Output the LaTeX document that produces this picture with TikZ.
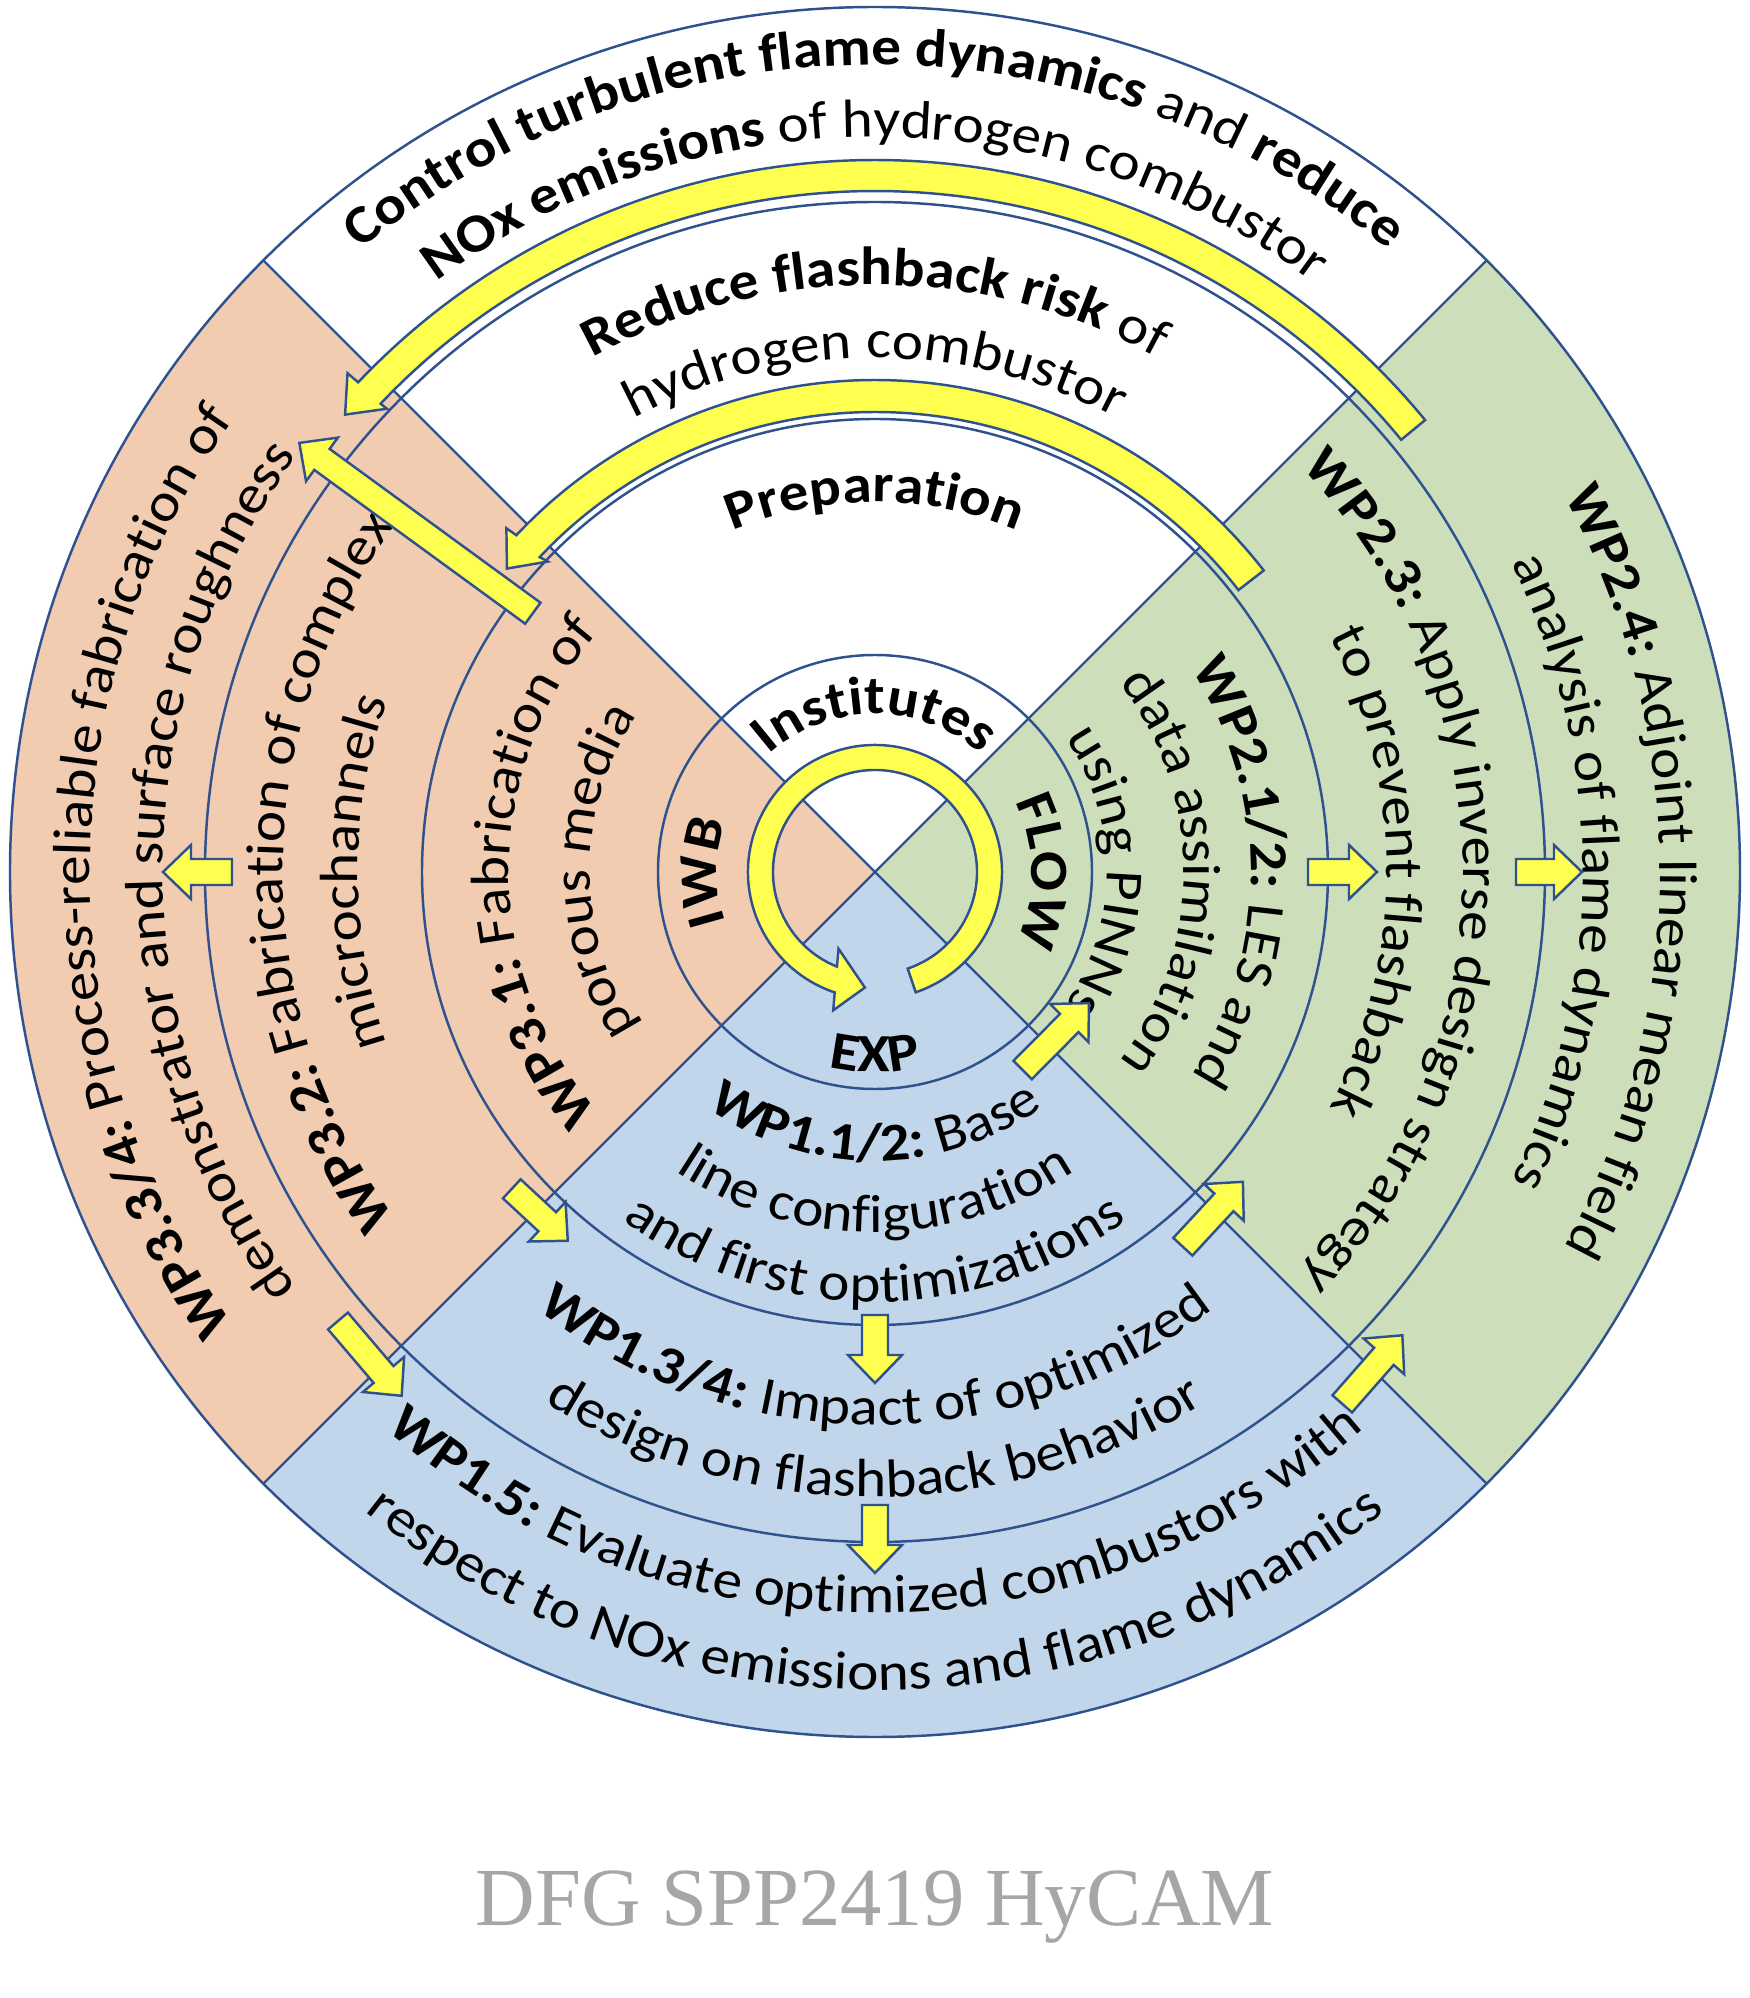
\documentclass[tikz,border=0pt]{standalone}
\usepackage{fontspec}
\setmainfont{Carlito}[FakeStretch=1.1]
\newfontfamily\capfont{Liberation Serif}
\usetikzlibrary{calc,decorations.text}
\definecolor{wporange}{RGB}{241,204,176}
\definecolor{wpgreen}{RGB}{204,223,186}
\definecolor{wpblue}{RGB}{193,214,234}
\definecolor{ringblue}{RGB}{47,82,143}
\definecolor{arrowyellow}{RGB}{255,255,80}
\definecolor{capgray}{RGB}{166,166,166}

% text along a ring, clockwise, centred on angle #1
\newcommand{\ringtext}[3]{%
  \path[decorate, decoration={text along path, text align=center, text={#3}}]
    (#1+55:#2) arc[start angle=#1+55, end angle=#1-55, radius=#2];}
% text along the lower ring, counter-clockwise
\newcommand{\lowtext}[2]{%
  \path[decorate, decoration={text along path, text align=center, text={#2}}]
    (215:#1) arc[start angle=215, end angle=325, radius=#1];}
% straight block arrow from tail #2 to tip #3
\newcommand{\blockarrow}[3]{%
  \coordinate (#1t) at #2;
  \coordinate (#1h) at #3;
  \coordinate (#1b) at ($(#1h)!0.28cm!(#1t)$);
  \draw[yarrow] ($(#1t)!0.13cm!90:(#1h)$) -- ($(#1b)!0.13cm!-90:(#1t)$)
    -- ($(#1b)!0.27cm!-90:(#1t)$) -- (#1h) -- ($(#1b)!0.27cm!90:(#1t)$)
    -- ($(#1b)!0.13cm!90:(#1t)$) -- ($(#1t)!0.13cm!-90:(#1h)$) -- cycle;}

\begin{document}
\begin{tikzpicture}[
    ring/.style={draw=ringblue, line width=0.7pt},
    yarrow/.style={draw=ringblue, line width=0.7pt, fill=arrowyellow, line join=miter}
]
    \fontsize{15.3pt}{18pt}\selectfont
    \fill[white] (-8.75,-11.26) rectangle (8.75,8.72);
    \useasboundingbox (-8.75,-11.26) rectangle (8.75,8.72);

    % Quadrants
    \fill[wporange] (0,0) -- (135:8.65) arc[start angle=135, end angle=225, radius=8.65] -- cycle;
    \fill[wpblue] (0,0) -- (225:8.65) arc[start angle=225, end angle=315, radius=8.65] -- cycle;
    \fill[wpgreen] (0,0) -- (-45:8.65) arc[start angle=-45, end angle=45, radius=8.65] -- cycle;

    % Rings and spokes
    \foreach \r in {2.17,4.53,6.70,8.65}
        \draw[ring] (0,0) circle[radius=\r];
    \foreach \a in {45,135,225,315}
        \draw[ring] (0,0) -- (\a:8.65);

    % Goals (top)
    \ringtext{90}{8.07}{|\bfseries|Control turbulent flame dynamics|\mdseries| and |\bfseries|reduce}
    \ringtext{90}{7.35}{|\bfseries|NOx emissions|\mdseries| of hydrogen combustor}
    \ringtext{90}{5.87}{|\bfseries|Reduce flashback risk|\mdseries| of}
    \ringtext{90}{5.14}{hydrogen combustor}
    \ringtext{90}{3.70}{|\bfseries|Preparation}
    \ringtext{90}{1.58}{|\bfseries|Institutes}

    % IWB (left)
    \ringtext{180}{7.85}{|\bfseries|WP3.3/4:|\mdseries| Process-reliable fabrication of}
    \ringtext{180}{7.12}{demonstrator and surface roughness}
    \ringtext{180}{5.92}{|\bfseries|WP3.2:|\mdseries| Fabrication of complex}
    \ringtext{180}{5.17}{microchannels}
    \ringtext{180}{3.66}{|\bfseries|WP3.1:|\mdseries| Fabrication of}
    \ringtext{180}{2.85}{porous media}
    \ringtext{180}{1.58}{|\bfseries|IWB}

    % FLOW (right)
    \ringtext{0}{7.85}{|\bfseries|WP2.4:|\mdseries| Adjoint linear mean field}
    \ringtext{0}{7.08}{analysis of flame dynamics}
    \ringtext{0}{5.88}{|\bfseries|WP2.3:|\mdseries| Apply inverse design strategy}
    \ringtext{0}{5.12}{to prevent flashback}
    \ringtext{0}{3.76}{|\bfseries|WP2.1/2:|\mdseries| LES and}
    \ringtext{0}{3.09}{data assimilation}
    \ringtext{0}{2.32}{using PINNs}
    \ringtext{0}{1.57}{|\bfseries|FLOW}

    % EXP (bottom)
    \lowtext{2.00}{|\bfseries|EXP}
    \lowtext{2.89}{|\bfseries|WP1.1/2:|\mdseries| Base}
    \lowtext{3.60}{line configuration}
    \lowtext{4.30}{and first optimizations}
    \lowtext{5.53}{|\bfseries|WP1.3/4:|\mdseries| Impact of optimized}
    \lowtext{6.25}{design on flashback behavior}
    \lowtext{7.41}{|\bfseries|WP1.5:|\mdseries| Evaluate optimized combustors with}
    \lowtext{8.18}{respect to NOx emissions and flame dynamics}

    % Curved arrows
    \draw[yarrow] (39.4:7.12) arc[start angle=39.4, end angle=136.55, radius=7.12]
        -- (136.6:7.26) -- (139.2:7.0) -- (136.5:6.73) -- (136.55:6.81)
        arc[start angle=136.55, end angle=39.4, radius=6.81] -- cycle;
    \draw[yarrow] (37.8:4.92) arc[start angle=37.8, end angle=136.8, radius=4.92]
        -- (137:5.04) -- (140.5:4.77) -- (136.5:4.51) -- (136.8:4.60)
        arc[start angle=136.8, end angle=37.8, radius=4.60] -- cycle;
    \draw[yarrow] (-71.3:1.27) arc[start angle=-71.3, end angle=251.5, radius=1.27]
        -- (253.2:1.445) -- (265:1.16) -- (244.6:0.85) -- (248.1:1.02)
        arc[start angle=248.1, end angle=-71.3, radius=1.02] -- cycle;

    % Block arrows between work packages
    \blockarrow{wpa}{(180:6.43)}{(180:7.12)}
    \blockarrow{wpb}{(142.9:4.29)}{(143.3:7.18)}
    \blockarrow{wpc}{(221.1:4.82)}{(230.2:4.80)}
    \blockarrow{wpd}{(219.9:7.00)}{(227.9:7.06)}
    \blockarrow{wpe}{(270:4.43)}{(270:5.11)}
    \blockarrow{wpf}{(270:6.33)}{(270:7.01)}
    \blockarrow{wpg}{(-53.3:2.47)}{(-31.5:2.51)}
    \blockarrow{wph}{(-50.6:4.85)}{(-40.1:4.81)}
    \blockarrow{wpi}{(-48.7:7.08)}{(-41.3:7.02)}
    \blockarrow{wpj}{(0:4.33)}{(0:5.02)}
    \blockarrow{wpk}{(0:6.41)}{(0:7.07)}

    % Caption
    \node[font=\capfont\fontsize{23.5pt}{28pt}\selectfont, text=capgray, anchor=base] (caption) at (0,-10.53) {DFG SPP2419 HyCAM};
\end{tikzpicture}
\end{document}
